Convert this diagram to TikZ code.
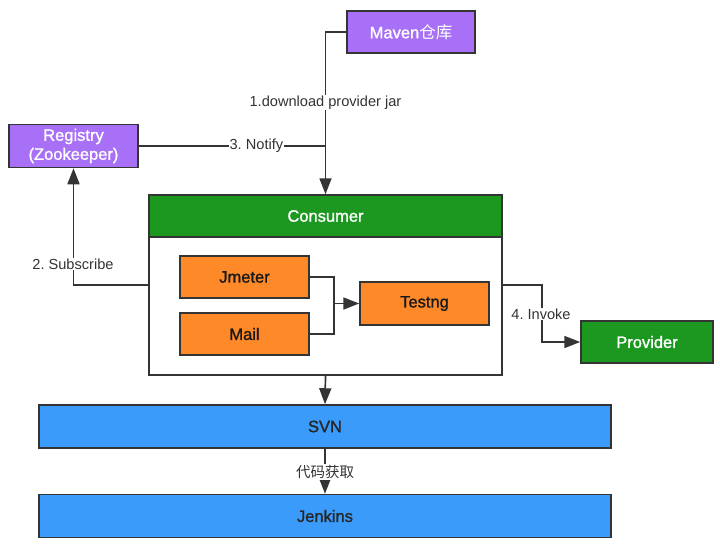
\documentclass[tikz,border=0pt]{standalone}
\usepackage{fontspec}
\setmainfont{Liberation Sans}
\newfontfamily\boxfont[FakeBold=1.2]{Liberation Sans}
\newfontfamily\cjk{Noto Sans CJK SC}
\usetikzlibrary{arrows.meta}
\definecolor{boxpurple}{RGB}{167,112,246}
\definecolor{boxgreen}{RGB}{28,152,32}
\definecolor{boxorange}{RGB}{253,137,40}
\definecolor{boxblue}{RGB}{58,155,250}
\definecolor{edgegray}{RGB}{52,52,52}
\tikzset{
  box/.style={draw=edgegray, line width=1.5pt, inner sep=0pt, font=\boxfont\fontsize{16.5}{19}\selectfont},
  purplebox/.style={box, fill=boxpurple, text=white},
  greenbox/.style={box, fill=boxgreen, text=white},
  orangebox/.style={box, fill=boxorange, text=black!90},
  bluebox/.style={box, fill=boxblue, text=black!85},
  link/.style={draw=edgegray, line width=1.7pt},
  arrowlink/.style={link, -{Triangle[length=16pt,width=12pt]}},
  lbl/.style={fill=white, inner sep=1pt, text=black!80, font=\fontsize{14.6}{17}\selectfont}
}

\begin{document}
\frenchspacing
\begin{tikzpicture}[x=1pt,y=-1pt]
			%%%%% START %%%%%
			\useasboundingbox[fill=white] (0,0) rectangle (720,547);
			
			% top row
			\node[purplebox, minimum width=128pt, minimum height=42pt] (maven) at (411,32) {Maven{\cjk 仓库}};
			\node[purplebox, minimum width=129pt, minimum height=43pt, align=center] (registry) at (73.5,146) {Registry\\(Zookeeper)};
			
			% consumer
			\node[box, fill=white, minimum width=353pt, minimum height=180pt] (cbody) at (325.5,285) {};
			\node[greenbox, minimum width=353pt, minimum height=42pt] (chead) at (325.5,216) {Consumer};
			\node[orangebox, minimum width=129pt, minimum height=42pt] (jmeter) at (244.5,277) {Jmeter};
			\node[orangebox, minimum width=129pt, minimum height=42pt] (mail) at (244.5,334) {Mail};
			\node[orangebox, minimum width=129pt, minimum height=43pt] (testng) at (424.5,303.5) {Testng};
			\node[greenbox, minimum width=132pt, minimum height=42pt] (provider) at (647,342) {Provider};
			
			% bottom row
			\node[bluebox, minimum width=572pt, minimum height=43pt] (svn) at (325,426.5) {SVN};
			\node[bluebox, minimum width=572pt, minimum height=43pt] (jenkins) at (325,516) {Jenkins};
			
			% connectors
			\coordinate (mvturn) at (325.5,32);
			\coordinate (notifyjoin) at (325.5,146);
			\coordinate (merge) at (334,303.5);
			\draw[arrowlink] (maven.west) -- (mvturn) -- node[lbl, pos=0.435] (downlbl) {1.download provider jar} (chead.north);
			\draw[link] (registry.east) -- node[lbl, pos=0.63] (notifylbl) {3. Notify} (notifyjoin);
			\draw[arrowlink] (cbody.west) -| (registry.south);
			\node[lbl] (sublbl) at (73,264) {2. Subscribe};
			\draw[link] (jmeter.east) -| (merge);
			\draw[link] (mail.east) -| (merge);
			\draw[arrowlink] (merge) -- (testng.west);
			\draw[arrowlink] (cbody.east) -- ++(39,0) |- (provider.west);
			\node[lbl] (invokelbl) at (541,314) {4. Invoke};
			\draw[arrowlink] (cbody.south) -- (svn.north);
			\draw[arrowlink] (svn.south) -- node[lbl, pos=0.52, font=\fontsize{14.5}{17}\selectfont] (fetchlbl) {\cjk 代码获取} (jenkins.north);
			
			%%%%% END %%%%%
\end{tikzpicture}
\end{document}
